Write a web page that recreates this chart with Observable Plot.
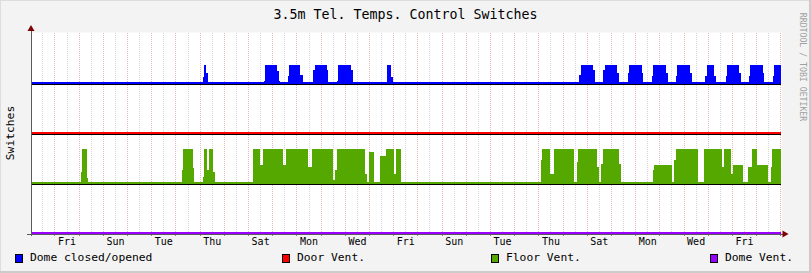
<!DOCTYPE html>
<html>
<head>
<meta charset="utf-8">
<script src="https://cdn.jsdelivr.net/npm/d3@7"></script>
<script src="https://cdn.jsdelivr.net/npm/@observablehq/plot@0.6"></script>
<style>
  html, body { margin: 0; padding: 0; background: #F3F3F3; }
  #wrap { position: relative; width: 811px; height: 273px; background: #F3F3F3; overflow: hidden;
          font-family: "DejaVu Sans Mono", monospace; color: #000; box-sizing: border-box; }
  #wrap .shadeR { position: absolute; right: 0; top: 0; width: 2px; height: 273px; background: #CBCBCB; }
  #wrap .shadeB { position: absolute; left: 0; bottom: 0; width: 811px; height: 2px; background: #CBCBCB; }
  #wrap .shadeL { position: absolute; left: 0; top: 0; width: 1px; height: 273px; background: #DDDDDD; }
  #wrap .shadeT { position: absolute; left: 0; top: 0; width: 811px; height: 1px; background: #DDDDDD; }
  #chart { position: absolute; left: 0; top: 0; }
  .title { position: absolute; left: 0; width: 811px; top: 7.75px; text-align: center; font-size: 13.3px; line-height: 1; white-space: nowrap; }
  .vlabel { position: absolute; line-height: 1; white-space: nowrap; transform: translate(-50%, -50%) rotate(-90deg); }
  .wm { position: absolute; line-height: 1; white-space: nowrap; transform: translate(-50%, -50%) rotate(90deg); color: #A0A0A0; }
  .lgbox { position: absolute; top: 254px; width: 8px; height: 9px; box-sizing: border-box; border: 1px solid #000; }
  .lgtext { position: absolute; top: 251.7px; font-size: 11.3px; line-height: 1; white-space: nowrap; }
</style>
</head>
<body>
<div id="wrap">
  <div class="shadeT"></div><div class="shadeL"></div>
  <div id="chart"></div>
  <div class="title">3.5m Tel. Temps. Control Switches</div>
  <div class="vlabel" style="left:11.4px; top:132.5px; font-size:11.3px;">Switches</div>
  <div class="wm" style="left:802.7px; top:67px; font-size:8.2px;">RRDTOOL / TOBI OETIKER</div>
  <div id="legend"></div>
  <div class="shadeR"></div><div class="shadeB"></div>
</div>
<script>
// ---- time axis: hours from the start of the 31-day window ----
const spanHours = 744;
const firstMidnight = 23.3;           // hours from start to the first midnight (Thu -> Fri)
const tickLabels = ["Fri","Sun","Tue","Thu","Sat","Mon","Wed","Fri","Sun","Tue","Thu","Sat","Mon","Wed","Fri"];

// ---- series (legend order) ----
const seriesNames  = ["Dome closed/opened", "Door Vent.", "Floor Vent.", "Dome Vent."];
const seriesColors = ["#0000FF", "#FF0000", "#54A800", "#9900FF"];
const seriesOffset = [3, 2, 1, 0];    // each switch drawn on its own lane
const legendX = [15, 282, 491, 710];

// segments: [startHour, endHour, value]
const domeSegments = [
  [170.3,171.6,0.12],[171.6,173.9,0.36],[173.9,175.6,0.2],
  [231.1,232.4,0.05],[232.4,243.7,0.36],[243.7,245.7,0.24],[245.7,247,0.05],
  [254.6,256.2,0.14],[256.2,266.8,0.36],[266.8,269.5,0.17],
  [279.4,281.7,0.27],[281.7,293.3,0.36],[293.3,294.9,0.27],
  [303.3,304.5,0.05],[304.5,317.1,0.36],[317.1,319.1,0.27],
  [352.9,357.1,0.36],[357.1,358.8,0.13],
  [543.6,545.3,0.17],[545.3,557.8,0.36],[557.8,559.5,0.27],
  [567.7,569.4,0.27],[569.4,581.6,0.36],[581.6,583.6,0.2],
  [591.9,593.5,0.2],[593.5,605.8,0.36],[605.8,607.4,0.2],
  [616,617.3,0.15],[617.3,629.9,0.36],[629.9,631.6,0.2],
  [639.8,641.1,0.15],[641.1,653.7,0.36],[653.7,656,0.2],
  [668.9,670.6,0.15],[670.6,677.5,0.36],[677.5,679.5,0.15],
  [689.1,690.1,0.15],[690.1,702.6,0.36],[702.6,704.3,0.2],
  [712,713.2,0.15],[713.2,725.9,0.36],[725.9,727.4,0.2],
  [736.4,737.4,0.15],[737.4,744,0.36]
];
const doorSegments = [];
const floorSegments = [
  [49.3,50.6,0.23],[50.6,55.3,0.68],[55.3,56.2,0.11],
  [149.5,151.1,0.26],[151.1,161,0.68],[161,161.7,0.3],
  [170.3,171.6,0.13],[171.6,174.9,0.68],[174.9,176.9,0.26],[176.9,180.8,0.68],[180.8,182.5,0.23],
  [219.9,227.2,0.68],[227.2,230.4,0.36],[230.4,250.3,0.68],[250.3,253,0.36],[253,275.1,0.68],
  [275.1,278.5,0.33],[278.5,299.9,0.68],[299.9,301.3,0.06],[301.3,303.9,0.26],[303.9,331.3,0.68],[331.3,333,0.19],
  [335.6,340.3,0.62],
  [346.2,352.2,0.55],[352.2,360.1,0.68],[360.1,362.1,0.19],[362.1,367,0.68],
  [505.9,507.2,0.46],[507.2,514.8,0.68],[514.8,518.8,0.19],[518.8,538.7,0.68],
  [541.3,542.9,0.43],[542.9,561.8,0.68],[561.8,563.7,0.33],
  [565.4,567.7,0.39],[567.7,583,0.68],[583,585,0.39],
  [616.7,618.3,0.26],[618.3,635.6,0.36],
  [637.9,639.8,0.46],[639.8,662,0.68],
  [667.9,685.2,0.68],[685.2,687.5,0.33],[687.5,694.1,0.68],[694.1,696.7,0.19],[696.7,706.6,0.36],
  [711.6,714.9,0.33],[714.9,720.5,0.68],[720.5,731.4,0.36],
  [733.8,735.4,0.33],[735.4,744,0.68]
];
const domeVentSegments = [];
const allSegments = [domeSegments, doorSegments, floorSegments, domeVentSegments];

// grid & tick positions derived from the axis definition
const majorHours = d3.range(firstMidnight, spanHours, 24);
const minorHours = d3.range(firstMidnight - 12, spanHours, 24);
const labelHours = tickLabels.map((_, i) => firstMidnight + 12 + 48 * i);

const axisColor = "#5A5A5A";
const arrowColor = "#7F0000";

const marks = [
  Plot.frame({fill: "white", stroke: null, insetTop: -1}),
  Plot.ruleX(minorHours, {stroke: "#8C8C8C", strokeOpacity: 0.35, strokeDasharray: "1,1", shapeRendering: "crispEdges"}),
  Plot.ruleX(majorHours, {stroke: "#C23030", strokeOpacity: 0.35, strokeDasharray: "1,1", shapeRendering: "crispEdges"}),
  Plot.ruleX(minorHours, {y1: 0, y2: -0.04, stroke: "#8C8C8C", strokeOpacity: 0.6, shapeRendering: "crispEdges"}),
  Plot.ruleX(majorHours, {y1: 0, y2: -0.06, stroke: "#821E1E", strokeOpacity: 0.6, shapeRendering: "crispEdges"})
];
allSegments.forEach((segs, i) => {
  const off = seriesOffset[i];
  marks.push(Plot.rect(segs, {x1: d => d[0], x2: d => d[1], y1: off, y2: d => off + d[2],
    fill: seriesColors[i], shapeRendering: "crispEdges"}));
});
seriesOffset.forEach((off, i) => {
  marks.push(Plot.ruleY([off], {stroke: seriesColors[i], strokeWidth: 2, dy: -1, shapeRendering: "crispEdges"}));
  if (off > 0) marks.push(Plot.ruleY([off], {stroke: "#000", strokeWidth: 1, dy: 0.5, shapeRendering: "crispEdges"}));
});
marks.push(
  Plot.ruleY([0], {stroke: axisColor, dy: 0.5, insetLeft: -4, insetRight: -3, shapeRendering: "crispEdges"}),
  Plot.ruleX([0], {stroke: axisColor, dx: -0.5, insetTop: -5, insetBottom: -3, shapeRendering: "crispEdges"}),
  Plot.dot([0], {x: 0, y: 4, symbol: "triangle", r: 2.6, fill: arrowColor, stroke: null, dx: -0.5, dy: -4.5}),
  Plot.dot([0], {x: spanHours, y: 0, symbol: "triangle", r: 2.6, fill: arrowColor, stroke: null, rotate: 90, dx: 3, dy: 0.5}),
  Plot.text(labelHours, {x: d => d, y: 0, text: (d, i) => tickLabels[i], dy: 8.5, fontSize: 10, fill: "#000",
    fontFamily: "DejaVu Sans Mono"})
);

const chart = Plot.plot({
  width: 811, height: 273,
  marginLeft: 31, marginRight: 30, marginTop: 33, marginBottom: 40,
  x: {domain: [0, spanHours], axis: null},
  y: {domain: [0, 4], axis: null},
  style: {background: "transparent", overflow: "visible", fontFamily: "DejaVu Sans Mono"},
  marks
});
document.getElementById("chart").appendChild(chart);

// legend
const legend = document.getElementById("legend");
seriesNames.forEach((name, i) => {
  const box = document.createElement("div");
  box.className = "lgbox";
  box.style.left = legendX[i] + "px";
  box.style.background = seriesColors[i];
  legend.appendChild(box);
  const t = document.createElement("div");
  t.className = "lgtext";
  t.style.left = (legendX[i] + 15) + "px";
  t.textContent = name;
  legend.appendChild(t);
});
</script>
</body>
</html>
